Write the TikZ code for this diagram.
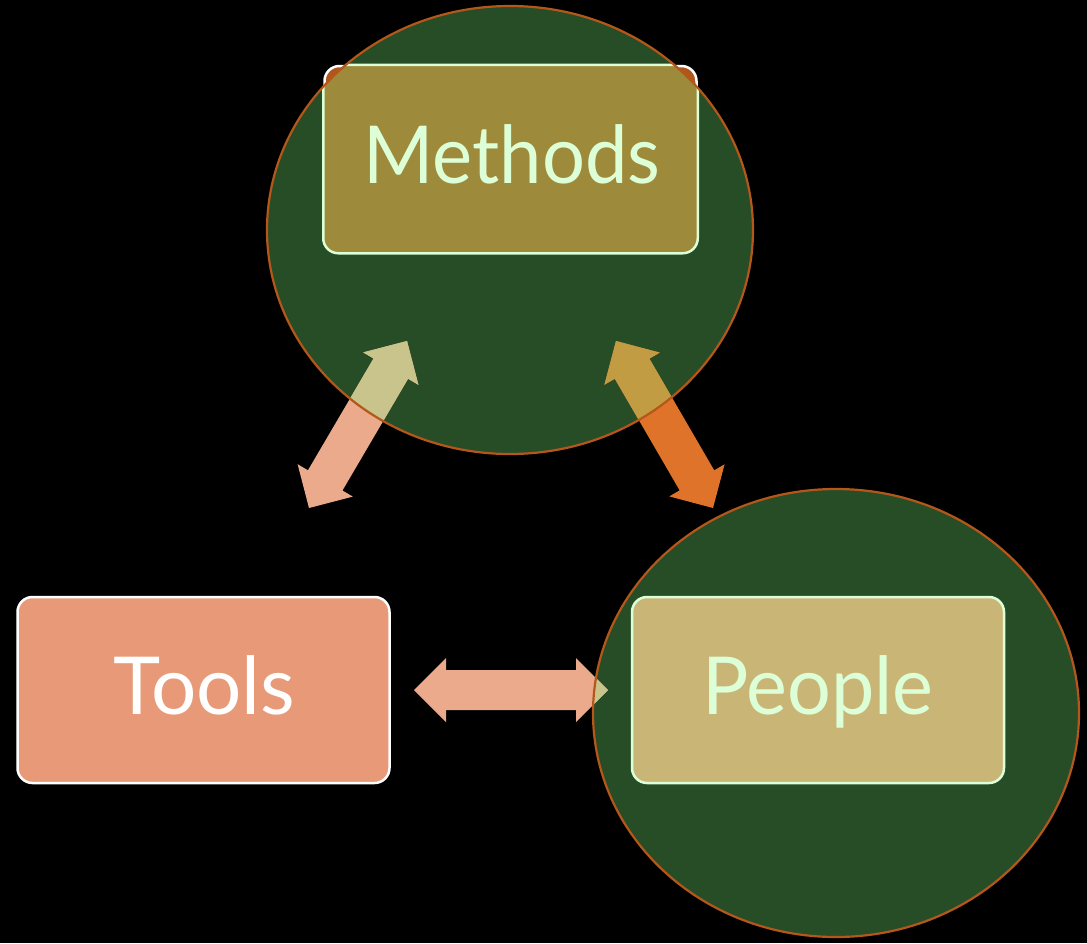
\documentclass[tikz,border=0pt]{standalone}
\usepackage{fontspec}
\setmainfont{Lato}
\usetikzlibrary{calc,shapes.geometric}
\definecolor{circfill}{HTML}{264D26}
\definecolor{circline}{HTML}{B5561A}
\definecolor{methfill}{HTML}{9E8A3B}
\definecolor{methout}{HTML}{B0561C}
\definecolor{peoplefill}{HTML}{C9B677}
\definecolor{toolsfill}{HTML}{E89A78}
\definecolor{lightgrn}{HTML}{DDFFD8}
\definecolor{salmon}{HTML}{EBAA8C}
\definecolor{salmonin}{HTML}{C9C48B}
\definecolor{orangearr}{HTML}{DF732A}
\definecolor{orangein}{HTML}{C19C43}
\tikzset{
  boxnode/.style={rectangle, rounded corners=15pt, line width=2.5pt,
    minimum width=372pt, minimum height=186pt, inner sep=0pt},
  labeltext/.style={inner sep=0pt, text height=60pt, text depth=12pt,
    font=\fontsize{80}{96}\selectfont},
  bigcirc/.style={ellipse, inner sep=0pt, minimum width=486pt, minimum height=448pt, fill=circfill},
  circedge/.style={draw=circline, line width=2.2pt},
  dblarrow/.style 2 args={insert path={
    (#1) -- ($(#1)!32pt!(#2)!32pt!90:(#2)$) -- ($(#1)!32pt!(#2)!20pt!90:(#2)$)
    -- ($(#2)!32pt!(#1)!20pt!-90:(#1)$) -- ($(#2)!32pt!(#1)!32pt!-90:(#1)$)
    -- (#2) -- ($(#2)!32pt!(#1)!32pt!90:(#1)$) -- ($(#2)!32pt!(#1)!20pt!90:(#1)$)
    -- ($(#1)!32pt!(#2)!20pt!-90:(#2)$) -- ($(#1)!32pt!(#2)!32pt!-90:(#2)$) -- cycle}},
}
\begin{document}
\begin{tikzpicture}[x=1pt,y=-1pt]
\useasboundingbox (0,0) rectangle (1087,943);
\fill[black] (0,0) rectangle (1087,943);
% circles
\node[bigcirc] (mcirc) at (510,230) {};
\node[bigcirc] (pcirc) at (836,713) {};
% arrow end points
\coordinate (la1) at (309,508);
\coordinate (la2) at (407,341);
\coordinate (ra1) at (616,341);
\coordinate (ra2) at (713,508);
\coordinate (ha1) at (414,690);
\coordinate (ha2) at (608,690);
% arrows, outside parts
\fill[salmon, dblarrow={la1}{la2}];
\fill[orangearr, dblarrow={ra1}{ra2}];
\fill[salmon, dblarrow={ha1}{ha2}];
% arrows, parts inside circles
\begin{scope}
  \clip (mcirc.center) ellipse [x radius=243pt, y radius=224pt];
  \fill[salmonin, dblarrow={la1}{la2}];
  \fill[orangein, dblarrow={ra1}{ra2}];
\end{scope}
\begin{scope}
  \clip (pcirc.center) ellipse [x radius=243pt, y radius=224pt];
  \fill[salmonin, dblarrow={ha1}{ha2}];
\end{scope}
% boxes
\node[boxnode, fill=methout, draw=white] (methods) at (510.5,159) {};
\begin{scope}
  \clip (mcirc.center) ellipse [x radius=243pt, y radius=224pt];
  \draw[fill=methfill, draw=lightgrn, line width=2.5pt, rounded corners=15pt]
    (methods.south west) rectangle (methods.north east);
\end{scope}
\node[boxnode, fill=toolsfill, draw=white] (tools) at (203.5,690) {};
\node[boxnode, fill=peoplefill, draw=lightgrn] (people) at (818,690) {};
% circle outlines
\draw[circedge] (mcirc.center) ellipse [x radius=243pt, y radius=224pt];
\draw[circedge] (pcirc.center) ellipse [x radius=243pt, y radius=224pt];
% labels
\node[labeltext, text=lightgrn] (methodsT) at ($(methods.center)+(1.5,0)$) {\scalebox{0.948}[1]{Methods}};
\node[labeltext, text=white] (toolsT) at ($(tools.center)+(1,0)$) {Tools};
\node[labeltext, text=lightgrn] (peopleT) at (people.center) {\scalebox{0.966}[1]{People}};
\end{tikzpicture}
\end{document}
